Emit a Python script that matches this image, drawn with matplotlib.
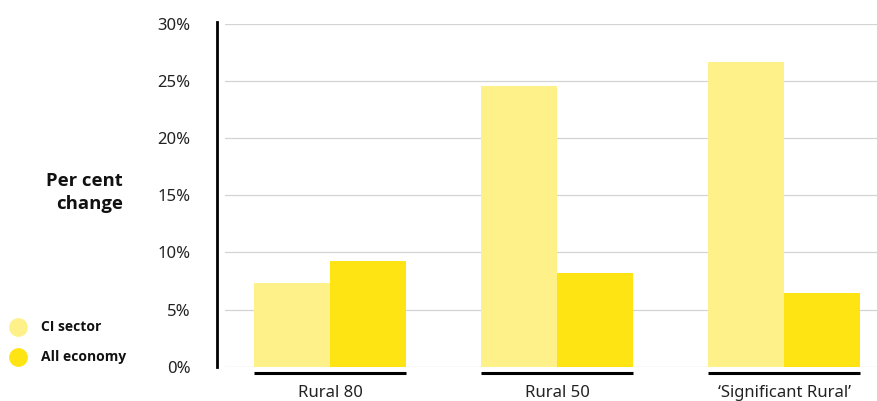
import matplotlib
matplotlib.use("Agg")
import matplotlib.pyplot as plt
from matplotlib.lines import Line2D
import numpy as np

plt.rcParams['font.family'] = ['Noto Sans', 'DejaVu Sans']
BOLD_FAMILY = ['Open Sans', 'Lato', 'DejaVu Sans']

categories = ["Rural 80", "Rural 50", "\u2018Significant Rural\u2019"]
series_names = ["CI sector", "All economy"]
ci_sector = [7.3, 24.6, 26.7]
all_economy = [9.25, 8.2, 6.45]
y_ticks = [0, 5, 10, 15, 20, 25, 30]
colors = ["#FFF18A", "#FFE414"]

W, H = 878, 401
fig = plt.figure(figsize=(W / 100, H / 100), dpi=100)
ax = fig.add_axes([225 / W, (H - 366.7) / H, (W - 225) / W, (366.7 - 24) / H])

x = np.arange(len(categories))
bw = 0.335
ax.bar(x - bw / 2, ci_sector, width=bw, color=colors[0], zorder=2, linewidth=0)
ax.bar(x + bw / 2, all_economy, width=bw, color=colors[1], zorder=2, linewidth=0)

ax.set_xlim(-0.4626, 2.414)
ax.set_ylim(0, 30)

# horizontal rule under each group
for xi in x:
    ax.plot([xi - bw, xi + bw], [-0.0195, -0.0195], color="black", lw=2.2,
            transform=ax.get_xaxis_transform(), clip_on=False, solid_capstyle="butt")

ax.set_yticks(y_ticks)
ax.set_yticklabels([f"{v}%" for v in y_ticks])
ax.yaxis.grid(True, color="#d4d4d4", lw=0.9, zorder=0)
ax.set_axisbelow(True)

for s in ["top", "right", "bottom"]:
    ax.spines[s].set_visible(False)
ax.spines["left"].set_position(("outward", 6))
ax.spines["left"].set_linewidth(2)
ax.spines["left"].set_color("black")
ax.spines["left"].set_bounds(0, 30.2)

ax.set_xticks(x)
ax.set_xticklabels(categories)
ax.tick_params(axis="x", length=0, pad=13, labelsize=12, labelcolor="#222222")
ax.tick_params(axis="y", length=0, pad=19, labelsize=12, labelcolor="#222222")

fig.text(123 / W, 1 - 192.5 / H, "Per cent\nchange", ha="right", va="center",
         fontsize=13.3, fontweight="bold", family=BOLD_FAMILY, color="#111111",
         linespacing=1.4)

legend_y = [326.7, 356.7]
for name, col, yy in zip(series_names, colors, legend_y):
    fig.add_artist(Line2D([18 / W], [1 - yy / H], marker="o", ms=13.5, color=col,
                          markeredgewidth=0, linestyle="none", transform=fig.transFigure))
    fig.text(41 / W, 1 - yy / H, name, ha="left", va="center", fontsize=10,
             fontweight="bold", family=BOLD_FAMILY, color="#111111")

fig.savefig("out.png", dpi=100)
